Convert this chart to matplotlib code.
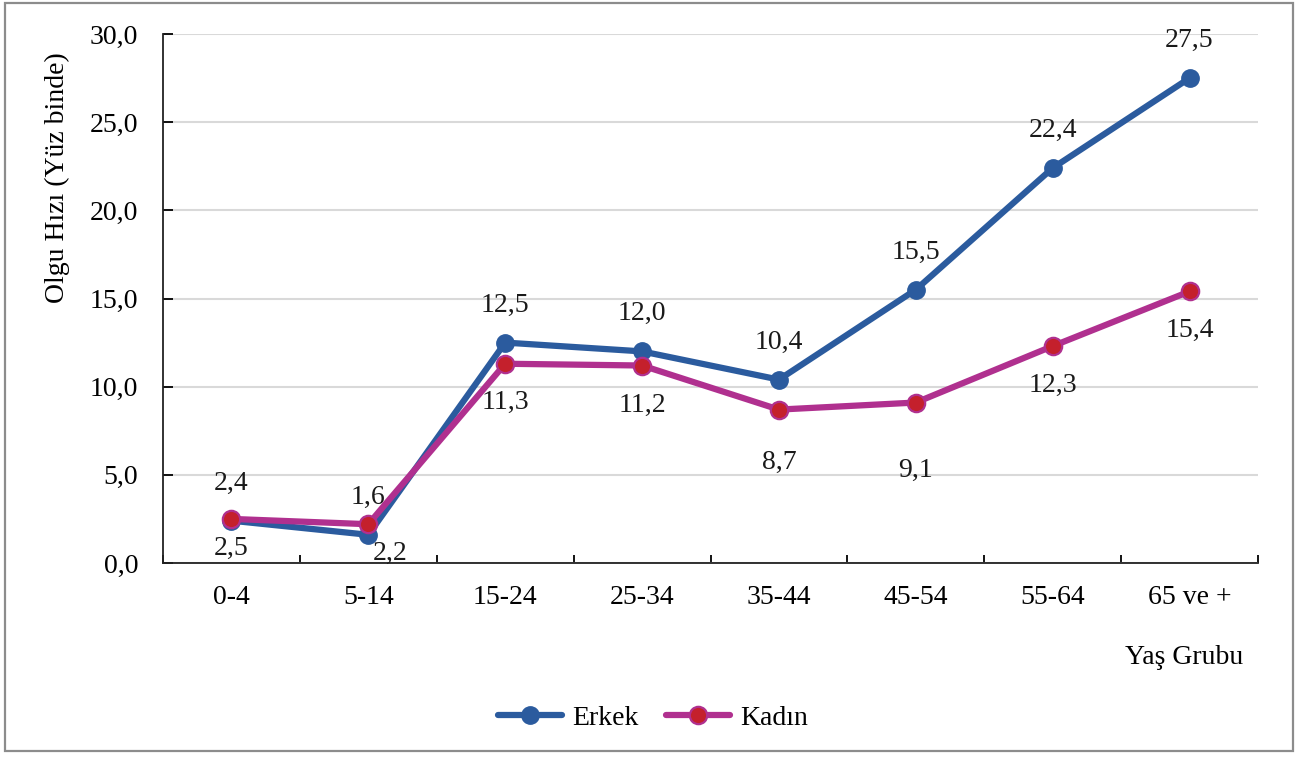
import numpy as np
import matplotlib
matplotlib.use("Agg")
from matplotlib import pyplot as plt
from matplotlib.patches import Rectangle

plt.rcParams['font.family'] = ['Liberation Serif', 'DejaVu Serif']

# data
age_groups = ["0-4", "5-14", "15-24", "25-34", "35-44", "45-54", "55-64", "65 ve +"]
erkek = [2.4, 1.6, 12.5, 12.0, 10.4, 15.5, 22.4, 27.5]
kadin = [2.5, 2.2, 11.3, 11.2, 8.7, 9.1, 12.3, 15.4]
y_ticks = [0, 5, 10, 15, 20, 25, 30]

# label offsets (points), as placed in the original
kadin_dx = [0, 16, 0, 0, 0, 0, 0, 0]
kadin_dy = [-21, -21, -28, -29, -38, -49, -28, -28]

blue = "#2B5B9E"
magenta = "#B0308F"
red = "#C4202C"
fs = 20

fig = plt.figure(figsize=(13.01, 7.58), dpi=100)
ax = fig.add_axes([163 / 1301, 1 - 563 / 758, 1095 / 1301, 529 / 758])

x = np.arange(len(age_groups))
ax.plot(x, erkek, color=blue, lw=4.5, marker='o', ms=12.5,
        mfc=blue, mec=blue, label="Erkek", solid_capstyle='round', zorder=3)
ax.plot(x, kadin, color=magenta, lw=4.5, marker='o', ms=12.5,
        mfc=red, mec=magenta, mew=1.6, label="Kadın", solid_capstyle='round', zorder=4)

def fmt(v):
    return ("%.1f" % v).replace(".", ",")

for i, v in enumerate(erkek):
    ax.annotate(fmt(v), (i, v), xytext=(0, 27), textcoords='offset points',
                ha='center', va='center', fontsize=fs, color="#1a1a1a")
for i, v in enumerate(kadin):
    ax.annotate(fmt(v), (i, v), xytext=(kadin_dx[i], kadin_dy[i]), textcoords='offset points',
                ha='center', va='center', fontsize=fs, color="#1a1a1a")

ax.set_xlim(-0.5, len(age_groups) - 0.5)
ax.set_ylim(0, 30)
ax.set_yticks(y_ticks)
ax.set_yticklabels([fmt(t) for t in y_ticks], fontsize=fs)
ax.set_xticks(x)
ax.set_xticklabels(age_groups, fontsize=fs)
ax.set_xticks(np.arange(-0.5, len(age_groups)), minor=True)
ax.tick_params(axis='x', which='major', length=0, pad=16)
ax.tick_params(axis='x', which='minor', direction='in', length=6, width=1.3)
ax.tick_params(axis='y', direction='in', length=7, width=1.3, pad=18)
ax.yaxis.grid(True, color="#D9D9D9", lw=1.5)
ax.set_axisbelow(True)
for s in ['top', 'right']:
    ax.spines[s].set_visible(False)
for s in ['left', 'bottom']:
    ax.spines[s].set_linewidth(1.3)
    ax.spines[s].set_color("#222222")

fig.text(57 / 1301, 1 - 178 / 758, "Olgu Hızı (Yüz binde)", rotation=90,
         ha='center', va='center', fontsize=fs)
fig.text(1243 / 1301, 1 - 658 / 758, "Yaş Grubu", ha='right', va='center', fontsize=fs)

fig.legend(loc='center', bbox_to_anchor=(653 / 1301, 1 - 718 / 758), ncol=2,
           frameon=False, fontsize=fs, handlelength=2.3, handletextpad=0.35,
           columnspacing=1.0)

fig.patches.append(Rectangle((5 / 1301, 1 - 751 / 758), 1288 / 1301, 748 / 758,
                             transform=fig.transFigure, fill=False,
                             edgecolor="#8C8C8C", lw=1.6))

fig.savefig("out.png", dpi=100)
